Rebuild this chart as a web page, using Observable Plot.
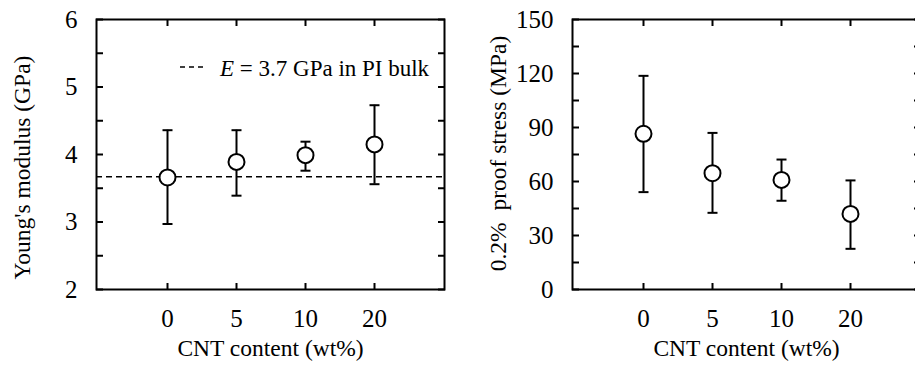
<!DOCTYPE html>
<html><head><meta charset="utf-8">
<script src="https://cdn.jsdelivr.net/npm/d3@7"></script>
<script src="https://cdn.jsdelivr.net/npm/@observablehq/plot@0.6"></script>
<style>
html,body{margin:0;padding:0;background:#fff;}
#wrap{position:relative;width:915px;height:365px;overflow:hidden;font-family:"Liberation Serif","Times New Roman",serif;}
#wrap > svg, #wrap > div{position:absolute;top:0;}
</style></head><body><div id="wrap"></div>
<script>
const categories = ["0", "5", "10", "20"];
const modulus   = [3.66, 3.89, 3.99, 4.15];
const modulusLo = [2.97, 3.39, 3.76, 3.56];
const modulusHi = [4.36, 4.36, 4.19, 4.73];
const stress   = [86.5, 64.6, 60.9, 42.0];
const stressLo = [54.1, 42.6, 49.3, 22.6];
const stressHi = [118.7, 87.0, 72.2, 60.6];
const bulkE = 3.67;
const modulusMajor = [2, 3, 4, 5, 6];
const modulusMinor = [2.5, 3.5, 4.5, 5.5];
const stressMajor = [0, 30, 60, 90, 120, 150];
const stressMinor = [15, 45, 75, 105, 135];
const xLabel = "CNT content (wt%)";
const modulusLabel = "Young's modulus (GPa)";
const stressLabel = "0.2%\u00a0 proof stress (MPa)";
const legendLabel = "E = 3.7 GPa in PI bulk";

const INK = "#000";
const FS = 23.5;      // axis titles
const TFS = 25;       // tick labels
const FONT = '"Liberation Serif","Times New Roman",serif';
const cap = {draw(ctx) { ctx.moveTo(-5, 0); ctx.lineTo(5, 0); }};

function panel({values, lo, hi, yDomain, major, minor, yLabel, labelDy, extra = []}) {
  const rows = categories.map((c, i) => ({c, v: values[i], lo: lo[i], hi: hi[i]}));
  return Plot.plot({
    width: 460, height: 365,
    marginLeft: 96, marginRight: 16, marginTop: 19, marginBottom: 76,
    style: {fontFamily: FONT, fontSize: FS + "px", color: INK, background: "transparent", overflow: "visible"},
    x: {type: "point", domain: categories, padding: 1},
    y: {domain: yDomain},
    marks: [
      ...extra,
      Plot.axisX({anchor: "bottom", tickSize: -6, tickPadding: 26, label: null, strokeWidth: 2, fontSize: TFS}),
      Plot.axisX({anchor: "top", tickSize: -6, text: null, label: null, strokeWidth: 2}),
      Plot.axisY(major, {anchor: "left", tickSize: -7, tickPadding: 26, tickFormat: d3.format("d"), label: null, strokeWidth: 2, fontSize: TFS}),
      Plot.axisY(minor, {anchor: "left", tickSize: -7, text: null, label: null, strokeWidth: 2}),
      Plot.axisY([...major, ...minor], {anchor: "right", tickSize: -7, text: null, label: null, strokeWidth: 2}),
      Plot.frame({stroke: INK, strokeWidth: 2}),
      Plot.ruleX(rows, {x: "c", y1: "lo", y2: "hi", stroke: INK, strokeWidth: 2}),
      Plot.dot(rows, {x: "c", y: "lo", symbol: cap, fill: "none", stroke: INK, strokeWidth: 2}),
      Plot.dot(rows, {x: "c", y: "hi", symbol: cap, fill: "none", stroke: INK, strokeWidth: 2}),
      Plot.dot(rows, {x: "c", y: "v", r: 8, fill: "white", stroke: INK, strokeWidth: 2}),
      Plot.text([xLabel], {text: d => d, frameAnchor: "bottom", dy: 59, lineAnchor: "middle", textAnchor: "middle", fontSize: FS, fill: INK}),
      Plot.text([yLabel], {text: d => d, frameAnchor: "left", rotate: -90, dx: -74, dy: labelDy, lineAnchor: "middle", textAnchor: "middle", fontSize: FS, fill: INK})
    ]
  });
}

const wrap = document.getElementById("wrap");

const left = panel({
  values: modulus, lo: modulusLo, hi: modulusHi, yDomain: [2, 6],
  major: modulusMajor, minor: modulusMinor, yLabel: modulusLabel, labelDy: 13,
  extra: [Plot.ruleY([bulkE], {stroke: INK, strokeWidth: 1.6, strokeDasharray: "6,4"})]
});
left.style.left = "0px";
wrap.appendChild(left);

const right = panel({
  values: stress, lo: stressLo, hi: stressHi, yDomain: [0, 150],
  major: stressMajor, minor: stressMinor, yLabel: stressLabel, labelDy: -1
});
right.style.left = "476px";
wrap.appendChild(right);

// legend for the dashed reference line
const ns = "http://www.w3.org/2000/svg";
const leg = document.createElementNS(ns, "svg");
leg.setAttribute("width", 460); leg.setAttribute("height", 365);
leg.style.left = "0px"; leg.style.pointerEvents = "none";
const ln = document.createElementNS(ns, "line");
ln.setAttribute("x1", 180); ln.setAttribute("x2", 204); ln.setAttribute("y1", 67); ln.setAttribute("y2", 67);
ln.setAttribute("stroke", INK); ln.setAttribute("stroke-width", 1.6); ln.setAttribute("stroke-dasharray", "5,4");
leg.appendChild(ln);
const tx = document.createElementNS(ns, "text");
tx.setAttribute("x", 220); tx.setAttribute("y", 76);
tx.setAttribute("font-family", FONT); tx.setAttribute("font-size", 23); tx.setAttribute("fill", INK);
const [eChar, ...restChars] = legendLabel;
const ts = document.createElementNS(ns, "tspan");
ts.setAttribute("font-style", "italic"); ts.textContent = eChar;
tx.appendChild(ts);
tx.appendChild(document.createTextNode(restChars.join("")));
leg.appendChild(tx);
wrap.appendChild(leg);
</script>
</body></html>
